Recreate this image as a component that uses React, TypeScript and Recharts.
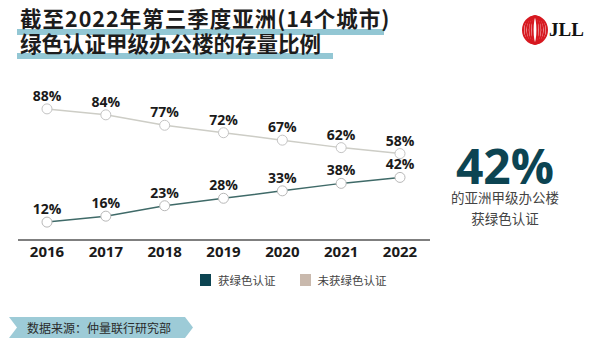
import React from 'react';
import { LineChart, Line, XAxis, YAxis, LabelList } from 'recharts';

const years = ['2016', '2017', '2018', '2019', '2020', '2021', '2022'];
const certified = [12, 16, 23, 28, 33, 38, 42];
const notCertified = [88, 84, 77, 72, 67, 62, 58];

const data = years.map((year, i) => ({
  year,
  certified: certified[i],
  notCertified: notCertified[i],
}));

const FONT = '"Noto Sans CJK SC", "Noto Sans", sans-serif';
const TEAL = '#0c4452';
const BEIGE = '#c9b9ad';

function YearTick({ x, y, payload }: any) {
  return (
    <text x={x} y={y + 9} textAnchor="middle" fontFamily="'Open Sans', sans-serif" fontWeight={700} fontSize={15} fill="#1a1a1a">
      {payload.value}
    </text>
  );
}

function PctLabel({ x, y, value }: any) {
  return (
    <text x={x} y={y - 8} textAnchor="middle" fontFamily="'Open Sans', sans-serif" fontWeight={700} fontSize={14} fill="#1a1a1a">
      {value}%
    </text>
  );
}

function Logo() {
  const rings = [12, 9.6, 7.2, 4.8, 2.4];
  return (
    <svg width={76} height={34} style={{ position: 'absolute', left: 521, top: 13 }}>
      {rings.map((rx, i) => (
        <ellipse key={i} cx={14} cy={17} rx={rx} ry={13.5} fill="none" stroke="#d71920" strokeWidth={2} />
      ))}
      <text x={28} y={23} fontFamily="'Liberation Serif', serif" fontWeight={700} fontSize={19} fill="#111">
        JLL
      </text>
    </svg>
  );
}

export default function App() {
  return (
    <div style={{ position: 'relative', width: 600, height: 357, margin: -8, background: '#fff', overflow: 'hidden', fontFamily: FONT }}>
      {/* title with underline bars */}
      <div style={{ position: 'absolute', left: 17, top: 29, width: 367, height: 6, background: '#93c7d4' }} />
      <div style={{ position: 'absolute', left: 17, top: 53, width: 316, height: 6, background: '#93c7d4' }} />
      <div style={{ position: 'absolute', left: 20, top: 5, fontSize: 21.5, fontWeight: 700, lineHeight: '25px', color: '#1c1c1c', whiteSpace: 'nowrap' }}>
        <div style={{ letterSpacing: 1 }}>截至2022年第三季度亚洲(14个城市)</div>
        <div>绿色认证甲级办公楼的存量比例</div>
      </div>

      <Logo />

      <LineChart
        width={600}
        height={357}
        data={data}
        margin={{ top: 91, right: 170, left: 18, bottom: 87 }}
        style={{ position: 'absolute', left: 0, top: 0 }}
      >
        <XAxis
          dataKey="year"
          axisLine={{ stroke: '#555', strokeWidth: 1.5 }}
          tickLine={false}
          tick={<YearTick />}
          height={30}
          interval={0}
          padding={{ left: 29, right: 30 }}
        />
        <YAxis hide domain={[0, 100]} />
        <Line
          dataKey="notCertified"
          stroke="#cdcdc6"
          strokeWidth={1.5}
          dot={{ r: 5, fill: '#fff', stroke: '#c4c4c4', strokeWidth: 1 }}
          isAnimationActive={false}
        >
          <LabelList dataKey="notCertified" content={<PctLabel />} />
        </Line>
        <Line
          dataKey="certified"
          stroke="#3f6a68"
          strokeWidth={1.5}
          dot={{ r: 5, fill: '#fff', stroke: '#b8b8b8', strokeWidth: 1 }}
          isAnimationActive={false}
        >
          <LabelList dataKey="certified" content={<PctLabel />} />
        </Line>
      </LineChart>

      {/* callout */}
      <div style={{ position: 'absolute', left: 430, top: 147, width: 150, textAlign: 'center' }}>
        <div style={{ fontFamily: "'Open Sans', sans-serif", fontSize: 48, fontWeight: 700, color: TEAL, lineHeight: '38px', height: 40 }}>42%</div>
        <div style={{ fontSize: 13.5, color: '#444', lineHeight: '21px', marginTop: 0 }}>的亚洲甲级办公楼</div>
        <div style={{ fontSize: 13.5, color: '#444', lineHeight: '21px' }}>获绿色认证</div>
      </div>

      {/* legend */}
      <div style={{ position: 'absolute', left: 200, top: 272, display: 'flex', alignItems: 'center', fontSize: 11.5, color: '#444' }}>
        <span style={{ width: 11, height: 12, background: TEAL, display: 'inline-block', marginRight: 7 }} />
        <span style={{ marginRight: 24 }}>获绿色认证</span>
        <span style={{ width: 11, height: 12, background: BEIGE, display: 'inline-block', marginRight: 7 }} />
        <span>未获绿色认证</span>
      </div>

      {/* source banner */}
      <svg width={200} height={22} style={{ position: 'absolute', left: 9, top: 317 }}>
        <polygon points="0,0 176,0 184,10.5 176,21 0,21 8,10.5" fill="#9dcbd7" />
      </svg>
      <div style={{ position: 'absolute', left: 27, top: 319, fontSize: 12, lineHeight: '18px', color: '#2a2a2a' }}>
        数据来源：仲量联行研究部
      </div>
    </div>
  );
}
